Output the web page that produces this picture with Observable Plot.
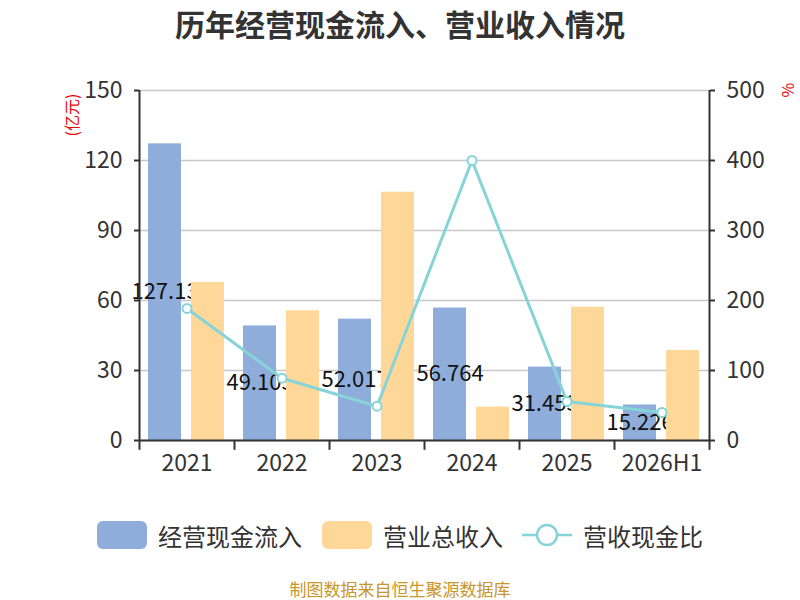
<!DOCTYPE html>
<html><head><meta charset="utf-8">
<script src="https://cdn.jsdelivr.net/npm/d3@7"></script>
<script src="https://cdn.jsdelivr.net/npm/@observablehq/plot@0.6"></script>
<style>
body{margin:0;background:#fff;font-family:"Noto Sans CJK SC",sans-serif;}
#wrap{position:relative;width:800px;height:600px;}
#title{position:absolute;top:3px;left:0;width:800px;text-align:center;font-size:30px;font-weight:bold;color:#333;line-height:40px;}
#chart{position:absolute;top:60px;left:0;}
.unit{position:absolute;color:#e00;font-size:16px;transform:rotate(-90deg);transform-origin:center;white-space:nowrap;line-height:18px;}
#legend{position:absolute;top:517px;left:0;width:800px;height:36px;}
.li{position:absolute;top:0;display:flex;align-items:center;height:36px;font-size:24px;color:#333;}
.sw{width:50px;height:28px;border-radius:6px;margin-right:11px;}
#footer{position:absolute;top:578px;left:0;width:800px;text-align:center;font-size:17px;color:#c8962a;line-height:22px;}
</style></head>
<body><div id="wrap">
<div id="title">历年经营现金流入、营业收入情况</div>
<div class="unit" style="left:50px;top:106px;">(亿元)</div>
<div class="unit" style="left:780px;top:81px;">%</div>
<div id="chart"></div>
<div id="legend">
  <div class="li" style="left:97px;"><div class="sw" style="background:#8eaddb"></div>经营现金流入</div>
  <div class="li" style="left:322px;"><div class="sw" style="background:#ffd899"></div>营业总收入</div>
  <div class="li" style="left:522px;"><svg width="50" height="28" style="margin-right:11px"><line x1="0" y1="14" x2="50" y2="14" stroke="#86d4d8" stroke-width="2.5"/><circle cx="25" cy="14" r="10" fill="#fff" stroke="#86d4d8" stroke-width="2.5"/></svg>营收现金比</div>
</div>
<div id="footer">制图数据来自恒生聚源数据库</div>
</div>
<script>
const years = ["2021","2022","2023","2024","2025","2026H1"];
const cashIn = [127.13, 49.103, 52.017, 56.764, 31.453, 15.226];
const revenue = [67.7, 55.6, 106.4, 14.3, 57.1, 38.6];
const ratio = [188.6, 89, 49, 400, 55.7, 40];
const leftTicks = [0, 30, 60, 90, 120, 150];
const rightTicks = [0, 100, 200, 300, 400, 500];
const k = 150 / 500;

const rows = years.map((y, i) => ({year: y, cash: cashIn[i], rev: revenue[i], ratio: ratio[i]}));
const font = '"Noto Sans CJK SC", sans-serif';
const axisCol = "#333";

const chart = Plot.plot({
  width: 800, height: 430,
  marginTop: 30, marginBottom: 50, marginLeft: 139, marginRight: 91,
  x: {domain: years, padding: 0},
  y: {domain: [0, 150]},
  style: {fontFamily: font, fontSize: "23px", color: "#333", overflow: "visible", background: "transparent"},
  marks: [
    Plot.ruleY(leftTicks, {stroke: "#c8c8c8", strokeWidth: 1.5}),
    Plot.barY(rows, {x: "year", y: "cash", fill: "#8eaddb", insetLeft: 9, insetRight: 53}),
    Plot.text(rows, {x: "year", y: d => d.cash / 2, text: d => String(d.cash), dx: -22, fontSize: 22, fill: "#111"}),
    Plot.barY(rows, {x: "year", y: "rev", fill: "#ffd899", insetLeft: 52, insetRight: 10}),
    Plot.axisY({ticks: leftTicks, anchor: "left", tickSize: 5, tickPadding: 12, fontSize: 23, label: null, color: axisCol, strokeWidth: 2}),
    Plot.axisY({ticks: rightTicks.map(t => t * k), anchor: "right", tickFormat: d => Math.round(d / k), tickSize: 5, tickPadding: 12, fontSize: 23, label: null, color: axisCol, strokeWidth: 2}),
    Plot.axisX({tickSize: 0, tickPadding: 14, fontSize: 23, label: null, color: axisCol}),
    Plot.ruleX([years[0]], {x: d => d, dx: -47.5, y1: 0, y2: 150, stroke: axisCol, strokeWidth: 2}),
    Plot.ruleX([years[years.length - 1]], {x: d => d, dx: 47.5, y1: 0, y2: 150, stroke: axisCol, strokeWidth: 2}),
    Plot.ruleY([0], {stroke: axisCol, strokeWidth: 2}),
    Plot.ruleX(years, {x: d => d, dx: -47.5, y1: 0, y2: -4.2, stroke: axisCol, strokeWidth: 2}),
    Plot.ruleX([years[years.length - 1]], {x: d => d, dx: 47.5, y1: 0, y2: -4.2, stroke: axisCol, strokeWidth: 2}),
    Plot.line(rows, {x: "year", y: d => d.ratio * k, stroke: "#86d4d8", strokeWidth: 3}),
    Plot.dot(rows, {x: "year", y: d => d.ratio * k, r: 4.5, fill: "#fff", stroke: "#86d4d8", strokeWidth: 2})
  ]
});
document.getElementById("chart").appendChild(chart);
</script>
</body></html>
